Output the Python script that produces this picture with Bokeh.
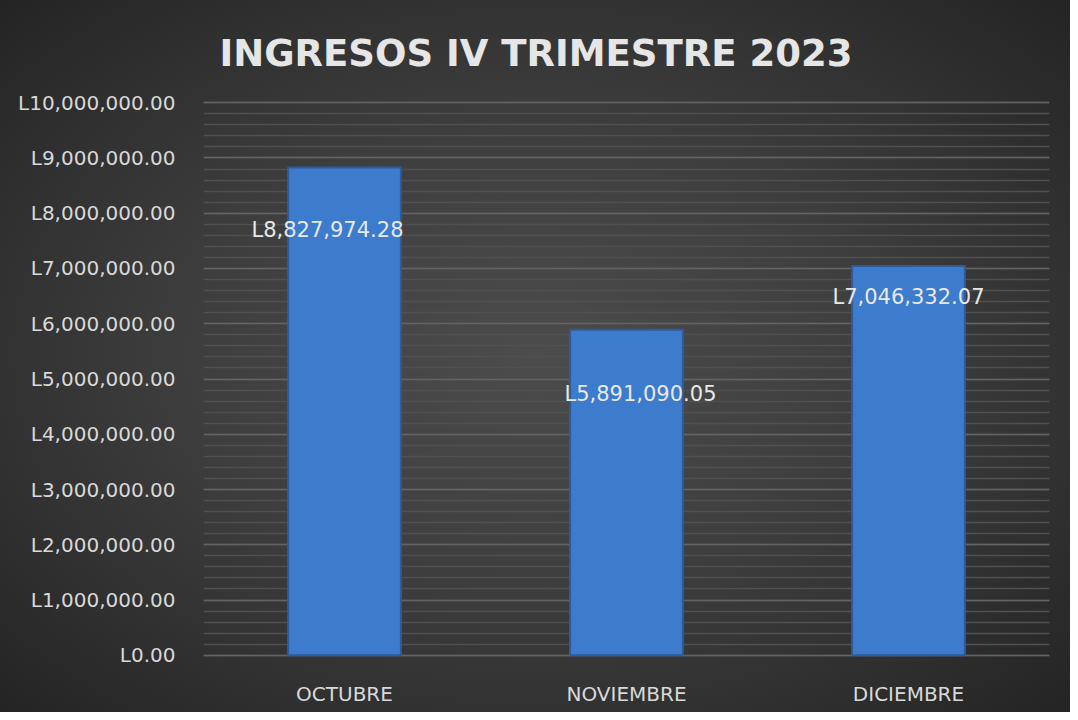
from bokeh.plotting import figure
from bokeh.models import (ColumnDataSource, FixedTicker, CustomJSTickFormatter,
                          FactorRange, Range1d)
from bokeh.core.properties import value
from bokeh.embed import file_html
from bokeh.resources import INLINE

# ---- data ----
months = ["OCTUBRE", "NOVIEMBRE", "DICIEMBRE"]
ingresos = [8827974.28, 5891090.05, 7046332.07]
labels = ["L8,827,974.28", "L5,891,090.05", "L7,046,332.07"]
y_ticks = [i * 1000000 for i in range(11)]
minor_ticks = [i * 200000 for i in range(51)]

# label placement (styling, px)
label_dx = [-17, 14, 0]
label_dy = [63, 64, 31]

src = ColumnDataSource(dict(x=months, top=ingresos, label=labels,
                            dx=label_dx, dy=label_dy))

FONT = "DejaVu Sans"

p = figure(width=1070, height=712, x_range=FactorRange(*months, range_padding=0),
           y_range=Range1d(-40000, 10040000), output_backend="svg",
           toolbar_location=None, title="INGRESOS IV TRIMESTRE 2023",
           min_border_left=203, min_border_right=21, min_border_top=100,
           min_border_bottom=55)

# radial dark background behind a transparent canvas
p.styles = {"background": "radial-gradient(ellipse at 50% 50%, #4c4c4c 0%, #3e3e3e 45%, #2b2b2b 85%, #242424 100%)"}
p.background_fill_alpha = 0
p.border_fill_alpha = 0
p.outline_line_color = None

p.title.text_font = "DejaVu Sans"
p.title.text_font_style = "bold"
p.title.text_font_size = "37px"
p.title.text_color = "#e6e6e6"
p.title.align = "left"
p.title.offset = 16
p.title.standoff = 52

# grid
p.xgrid.grid_line_color = None
p.ygrid.grid_line_color = "#636363"
p.ygrid.grid_line_width = 1.5
p.ygrid.minor_grid_line_color = "#505050"
p.ygrid.minor_grid_line_width = 1.5

# y axis
p.yaxis.ticker = FixedTicker(ticks=y_ticks, minor_ticks=minor_ticks)
p.yaxis.formatter = CustomJSTickFormatter(code="""
    return 'L' + tick.toLocaleString('en-US', {minimumFractionDigits: 2, maximumFractionDigits: 2});
""")
p.yaxis.axis_line_color = None
p.yaxis.major_tick_line_color = None
p.yaxis.minor_tick_line_color = None
p.yaxis.major_label_text_font = FONT
p.yaxis.major_label_text_font_size = "20px"
p.yaxis.major_label_text_color = "#d9d9d9"
p.yaxis.major_label_standoff = 22

# x axis
p.xaxis.axis_line_color = None
p.xaxis.major_tick_line_color = None
p.xaxis.minor_tick_line_color = None
p.xaxis.major_label_text_font = FONT
p.xaxis.major_label_text_font_size = "20px"
p.xaxis.major_label_text_color = "#d9d9d9"
p.xaxis.major_label_standoff = 18

# bars
p.vbar(x="x", top="top", width=0.4, source=src, fill_color="#3d7bcc",
       line_color="#2c5c9e", line_width=2)

# data labels
p.text(x="x", y="top", text="label", source=src, x_offset="dx", y_offset="dy",
       text_align="center", text_baseline="middle", text_font=value(FONT),
       text_font_size="21px", text_color="#e8e8e8")

open("out.html", "w").write(file_html(p, INLINE))
